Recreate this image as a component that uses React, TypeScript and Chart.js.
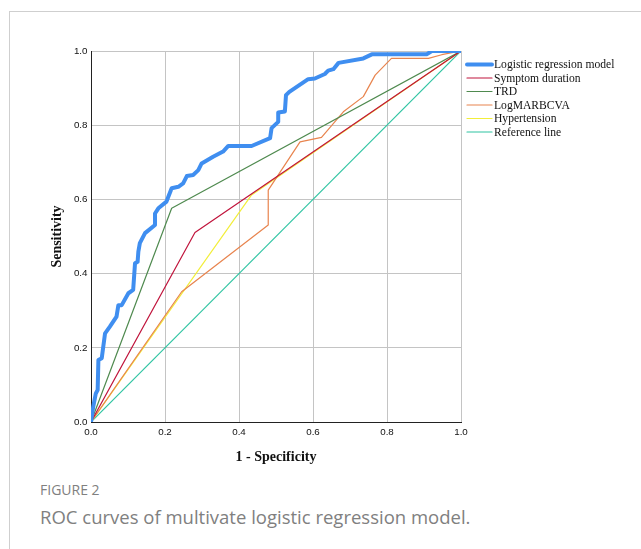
import { useEffect, useRef } from 'react';
import { Chart, registerables } from 'chart.js';

Chart.register(...registerables);

// ---- data ----
const seriesNames = [
  'Logistic regression model',
  'Symptom duration',
  'TRD',
  'LogMARBCVA',
  'Hypertension',
  'Reference line',
];

const logisticX = [0, 0.006, 0.013, 0.018, 0.02, 0.029, 0.038, 0.051, 0.069, 0.074, 0.083, 0.101, 0.114, 0.119, 0.126, 0.128, 0.132, 0.146, 0.173, 0.173, 0.182, 0.204, 0.209, 0.218, 0.236, 0.249, 0.259, 0.276, 0.29, 0.299, 0.33, 0.357, 0.371, 0.434, 0.484, 0.488, 0.506, 0.506, 0.524, 0.527, 0.536, 0.587, 0.605, 0.632, 0.641, 0.655, 0.669, 0.736, 0.759, 0.907, 0.921, 1];
const logisticY = [0, 0.041, 0.077, 0.086, 0.167, 0.172, 0.239, 0.257, 0.284, 0.315, 0.315, 0.347, 0.356, 0.428, 0.432, 0.459, 0.482, 0.509, 0.531, 0.562, 0.576, 0.594, 0.607, 0.63, 0.634, 0.643, 0.663, 0.666, 0.679, 0.697, 0.715, 0.729, 0.744, 0.744, 0.765, 0.792, 0.809, 0.834, 0.837, 0.881, 0.89, 0.924, 0.926, 0.938, 0.947, 0.951, 0.968, 0.98, 0.991, 0.991, 1, 1];

const symptomX = [0, 0.281, 1];
const symptomY = [0, 0.511, 1];

const trdX = [0, 0.218, 1];
const trdY = [0, 0.576, 1];

const logmarX = [0, 0.245, 0.479, 0.479, 0.565, 0.623, 0.682, 0.736, 0.768, 0.812, 0.912, 0.948, 1];
const logmarY = [0, 0.351, 0.531, 0.625, 0.755, 0.767, 0.836, 0.877, 0.935, 0.98, 0.98, 0.99, 1];

const hypertensionX = [0, 0.434, 1];
const hypertensionY = [0, 0.612, 1];

const referenceX = [0, 1];
const referenceY = [0, 1];

const tickLabels = ['0.0', '0.2', '0.4', '0.6', '0.8', '1.0'];

const seriesX = [logisticX, symptomX, trdX, logmarX, hypertensionX, referenceX];
const seriesY = [logisticY, symptomY, trdY, logmarY, hypertensionY, referenceY];
const seriesColors = ['#3f8ef0', '#c0143c', '#4f8a4f', '#e8844e', '#f2ee3a', '#2fc4a2'];
const seriesWidths = [4, 1.2, 1.2, 1.2, 1.2, 1.2];

const legendPlugin = {
  id: 'sideLegend',
  afterDraw(chart: any) {
    const ctx = chart.ctx as CanvasRenderingContext2D;
    const area = chart.chartArea;
    ctx.save();
    ctx.font = '11.6px "Liberation Serif", "DejaVu Serif", serif';
    ctx.textBaseline = 'middle';
    ctx.textAlign = 'left';
    chart.data.datasets.forEach((ds: any, i: number) => {
      const y = area.top + 13.5 + i * 13.5;
      const x0 = area.right + 6;
      ctx.beginPath();
      ctx.strokeStyle = ds.borderColor;
      ctx.lineWidth = ds.borderWidth;
      ctx.lineCap = 'round';
      ctx.moveTo(x0, y);
      ctx.lineTo(x0 + 25, y);
      ctx.stroke();
      ctx.fillStyle = '#111';
      ctx.fillText(ds.label, x0 + 27, y + 0.5);
    });
    ctx.restore();
  },
};

export default function App() {
  const canvasRef = useRef<HTMLCanvasElement | null>(null);

  useEffect(() => {
    if (!canvasRef.current) return;
    const datasets = seriesNames.map((name, i) => ({
      label: name,
      data: seriesX[i].map((x, j) => ({ x, y: seriesY[i][j] })),
      borderColor: seriesColors[i],
      backgroundColor: seriesColors[i],
      borderWidth: seriesWidths[i],
      pointRadius: 0,
      tension: 0,
      fill: false,
      borderJoinStyle: 'round' as const,
    }));

    const tickFont = { family: '"Liberation Sans", Arial, sans-serif', size: 9.8 };
    const titleFont = { family: '"Liberation Serif", "Times New Roman", serif', size: 14, weight: 'bold' as const };

    const chart = new Chart(canvasRef.current, {
      type: 'line',
      data: { datasets },
      plugins: [legendPlugin],
      options: {
        animation: false,
        responsive: false,
        devicePixelRatio: 1,
        layout: { padding: { left: 0, top: 51, right: 180, bottom: 0 } },
        plugins: { legend: { display: false }, tooltip: { enabled: false } },
        scales: {
          x: {
            type: 'linear',
            min: 0,
            max: 1,
            afterFit(scale: any) { scale.height = 58; },
            ticks: {
              stepSize: 0.2,
              padding: 4,
              color: '#111',
              font: tickFont,
              maxRotation: 0,
              callback: (_v: any, idx: number) => tickLabels[idx],
            },
            grid: { color: '#c4c4c4', lineWidth: 1, drawTicks: false },
            border: { color: '#222', width: 1 },
            title: {
              display: true,
              text: '1 - Specificity',
              color: '#111',
              font: titleFont,
              padding: { top: 0, bottom: 14 },
            },
          },
          y: {
            type: 'linear',
            min: 0,
            max: 1,
            afterFit(scale: any) { scale.width = 91; },
            ticks: {
              stepSize: 0.2,
              padding: 3.5,
              color: '#111',
              font: tickFont,
              callback: (_v: any, idx: number) => tickLabels[idx],
            },
            grid: { color: '#c4c4c4', lineWidth: 1, drawTicks: false },
            border: { color: '#222', width: 1 },
            title: {
              display: true,
              text: 'Sensitivity',
              color: '#111',
              font: titleFont,
              padding: { top: 49, bottom: 0 },
            },
          },
        },
      },
    });
    return () => chart.destroy();
  }, []);

  return (
    <div style={{ position: 'absolute', left: 0, top: 0, width: 641, height: 549, background: '#fff', overflow: 'hidden' }}>
      <div
        style={{
          position: 'absolute',
          left: 9,
          top: 11,
          width: 700,
          height: 600,
          borderLeft: '1px solid #cfcfcf',
          borderTop: '1px solid #cfcfcf',
        }}
      />
      <canvas ref={canvasRef} width={641} height={480} style={{ position: 'absolute', left: 0, top: 0, width: 641, height: 480 }} />
      <div
        style={{
          position: 'absolute',
          left: 40,
          top: 481,
          fontFamily: '"Open Sans", "Noto Sans", sans-serif',
          fontSize: 14,
          color: '#808080',
          lineHeight: '18px',
          whiteSpace: 'nowrap',
        }}
      >
        FIGURE 2
      </div>
      <div
        style={{
          position: 'absolute',
          left: 40,
          top: 505,
          fontFamily: '"Open Sans", "Noto Sans", sans-serif',
          fontSize: 18.5,
          color: '#808080',
          lineHeight: '24px',
          whiteSpace: 'nowrap',
        }}
      >
        ROC curves of multivate logistic regression model.
      </div>
    </div>
  );
}
